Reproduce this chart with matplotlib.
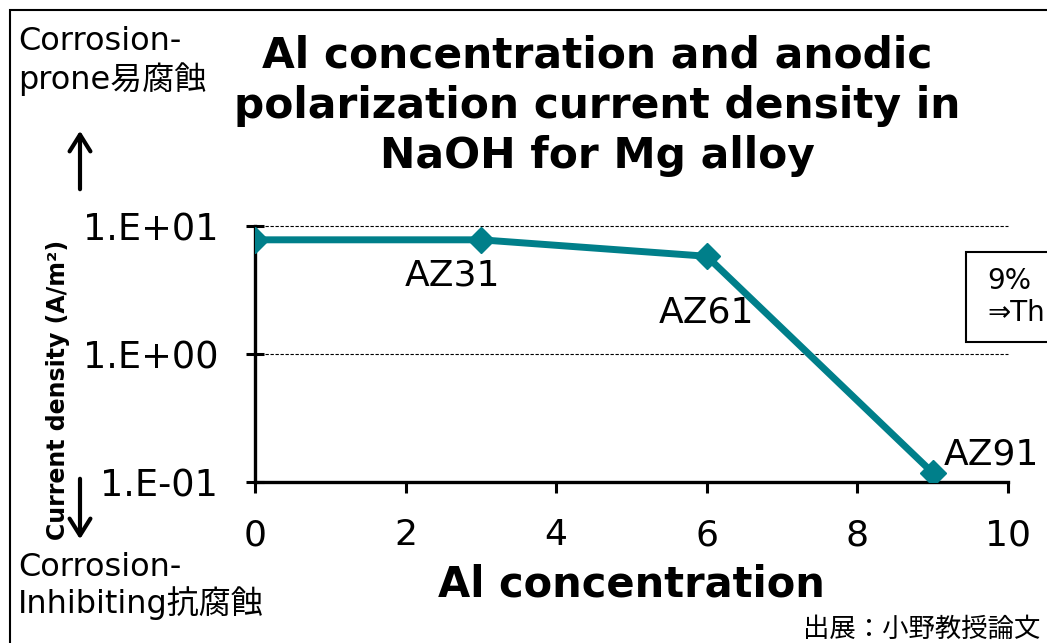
import matplotlib.pyplot as plt
import matplotlib as mpl
from matplotlib.patches import Rectangle

plt.rcParams["font.family"] = ["DejaVu Sans", "Noto Sans CJK JP"]

# data
al_conc = [0, 3, 6, 9]
current = [7.8, 7.8, 5.8, 0.118]
alloys = ["", "AZ31", "AZ61", "AZ91"]
yticks = [0.1, 1, 10]
ytick_labels = ["1.E-01", "1.E+00", "1.E+01"]
xticks = [0, 2, 4, 6, 8, 10]

teal = "#007F8A"

fig = plt.figure(figsize=(10.47, 6.43), dpi=100)
ax = fig.add_axes([255/1047, 1-482/643, 753/1047, 256/643])

ax.plot(al_conc, current, color=teal, lw=5, marker="D", ms=13, mec=teal, mfc=teal, zorder=3)
ax.set_yscale("log")
ax.set_xlim(0, 10)
ax.set_ylim(0.1, 10)
ax.set_yticks(yticks)
ax.set_yticklabels(ytick_labels)
ax.yaxis.set_minor_locator(mpl.ticker.NullLocator())
ax.set_xticks(xticks)

for s in ["top", "right"]:
    ax.spines[s].set_visible(False)
for s in ["left", "bottom"]:
    ax.spines[s].set_linewidth(2.4)
    ax.spines[s].set_color("black")

ax.tick_params(axis="y", direction="inout", length=13, width=2.2, labelsize=26.5, pad=20)
ax.tick_params(axis="x", direction="out", length=8, width=2.2, labelsize=26, pad=18)

for yv in [1, 10]:
    ax.axhline(yv, color="black", lw=0.8, ls=(0, (3, 1.5)), zorder=1, clip_on=False)

# alloy labels
ax.text(2.62, 4.1, alloys[1], fontsize=26, ha="center", va="center")
ax.text(6.0, 2.1, alloys[2], fontsize=26, ha="center", va="center")
ax.text(9.15, 0.163, alloys[3], fontsize=26, ha="left", va="center")

ax.set_xlabel("Al concentration", fontsize=30, fontweight="bold", labelpad=8)

# y label placed in figure coordinates
fig.text(58/1047, 1-390/643, "Current density (A/m²)", fontsize=17, fontweight="bold",
         rotation=90, ha="center", va="center")

fig.text(597/1047, 1-106/643,
         "Al concentration and anodic\npolarization current density in\nNaOH for Mg alloy",
         fontsize=30.5, fontweight="bold", ha="center", va="center", linespacing=1.25)

fig.text(18/1047, 1-61/643, "Corrosion-\nprone易腐蝕", fontsize=23, ha="left", va="center",
         linespacing=1.2)
fig.text(18/1047, 1-586/643, "Corrosion-\nInhibiting抗腐蝕", fontsize=23, ha="left", va="center",
         linespacing=1.15)

fig.text(1040/1047, 1-630/643, "出展：小野教授論文", fontsize=19, ha="right", va="center")

# arrows
fig.add_artist(mpl.patches.FancyArrowPatch((80/1047, 1-192/643), (80/1047, 1-128/643),
               transform=fig.transFigure, arrowstyle="->,head_length=8,head_width=5",
               lw=3, color="black", mutation_scale=1.5))
fig.add_artist(mpl.patches.FancyArrowPatch((80/1047, 1-476/643), (80/1047, 1-542/643),
               transform=fig.transFigure, arrowstyle="->,head_length=8,head_width=5",
               lw=3, color="black", mutation_scale=1.5))

# note box (cut at figure edge, as in the original)
fig.add_artist(Rectangle((966/1047, 1-342/643), 0.2, 90/643, transform=fig.transFigure,
                         fc="white", ec="black", lw=1.5))
fig.text(987/1047, 1-297/643, "9%\n⇒Th", fontsize=20, ha="left", va="center",
         linespacing=1.2)

# outer frame
fig.add_artist(Rectangle((10/1047, -0.1), 1.2, 1.1 - 10/643, transform=fig.transFigure,
                         fill=False, ec="black", lw=1.5))

fig.savefig("out.png", dpi=100)
